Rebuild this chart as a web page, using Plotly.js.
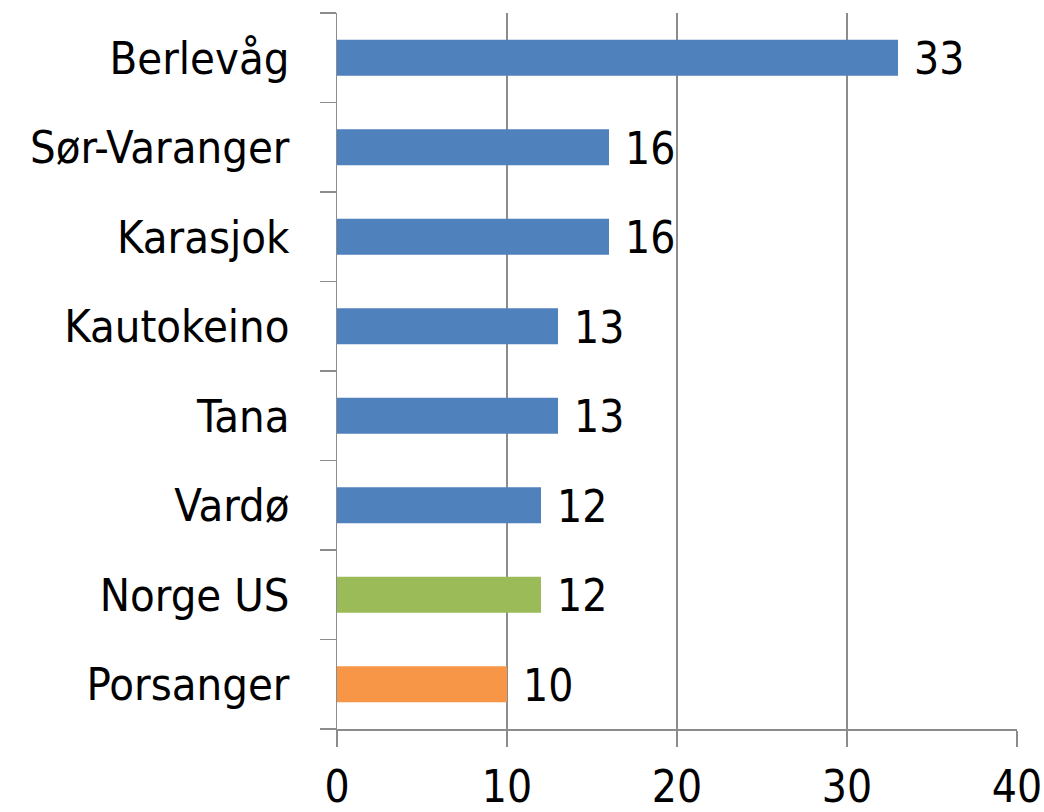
<!DOCTYPE html>
<html>
<head>
<meta charset="utf-8">
<script src="https://cdn.plot.ly/plotly-3.0.1.min.js"></script>
<style>html,body{margin:0;padding:0;background:#fff;}#chart{width:1044px;height:812px;}</style>
</head>
<body>
<div id="chart"></div>
<script>
const categories = ["Porsanger", "Norge US", "Vardø", "Tana", "Kautokeino", "Karasjok", "Sør-Varanger", "Berlevåg"];
const values = [10, 12, 12, 13, 13, 16, 16, 33];
const barColors = ["#F79646", "#9BBB59", "#4F81BD", "#4F81BD", "#4F81BD", "#4F81BD", "#4F81BD", "#4F81BD"];
const xTicks = [0, 10, 20, 30, 40];

const fontFamily = "DejaVu Sans Condensed, DejaVu Sans, Verdana, sans-serif";
const fontSize = 44;
const trace = {
  type: "bar",
  orientation: "h",
  y: categories,
  x: values,
  marker: {color: barColors},
  hoverinfo: "none"
};
const annotations = categories.map((c, i) => ({
  x: values[i], y: c, xref: "x", yref: "y",
  text: String(values[i]), showarrow: false,
  xanchor: "left", yanchor: "middle", xshift: 14, yshift: -1,
  font: {family: fontFamily, size: fontSize, color: "#000"}
}));
const layout = {
  width: 1044, height: 812,
  margin: {l: 337, r: 27, t: 13, b: 83, pad: 0},
  paper_bgcolor: "#fff", plot_bgcolor: "#fff",
  bargap: 0.6,
  showlegend: false,
  font: {family: fontFamily, size: fontSize, color: "#000"},
  annotations: annotations,
  xaxis: {
    range: [0, 40], tickvals: xTicks, ticktext: xTicks.map(String),
    showgrid: true, gridcolor: "#8c8c8c", gridwidth: 1.5,
    showline: true, linecolor: "#8c8c8c", linewidth: 1.5,
    ticks: "outside", ticklen: 16, tickcolor: "#8c8c8c", tickwidth: 1.5,
    zeroline: false, fixedrange: true,
    ticklabelstandoff: 3,
    tickfont: {family: fontFamily, size: fontSize, color: "#000"}
  },
  yaxis: {
    type: "category", categoryorder: "array", categoryarray: categories,
    range: [-0.5, 7.5],
    showline: true, linecolor: "#8c8c8c", linewidth: 1.5,
    ticks: "outside", tickson: "boundaries", ticklen: 16, tickcolor: "#8c8c8c", tickwidth: 1.5,
    showgrid: false, zeroline: false, fixedrange: true,
    ticklabelstandoff: 37,
    tickfont: {family: fontFamily, size: 45, color: "#000"}
  }
};
Plotly.newPlot("chart", [trace], layout, {displayModeBar: false, staticPlot: true});
</script>
</body>
</html>
